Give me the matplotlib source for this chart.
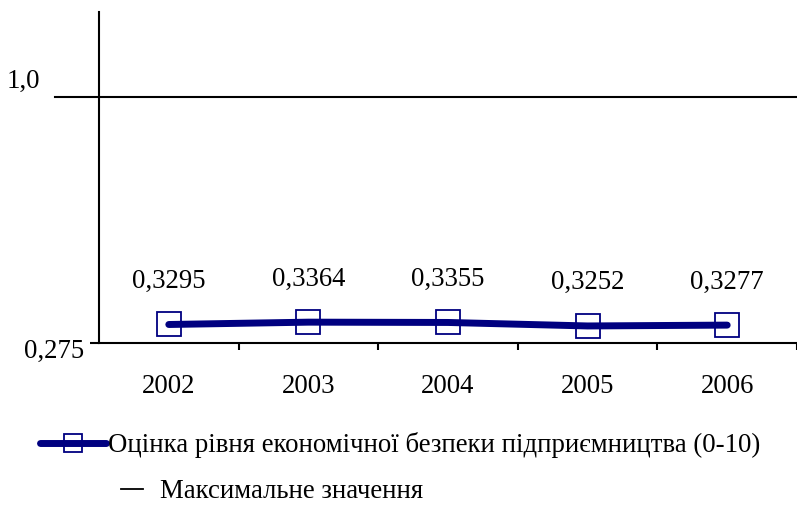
import matplotlib.pyplot as plt
from matplotlib.lines import Line2D
import matplotlib.transforms as mtransforms

plt.rcParams['font.family'] = ['Liberation Serif', 'DejaVu Serif']

# дані
years = ['2002', '2003', '2004', '2005', '2006']
scores = [0.3295, 0.3364, 0.3355, 0.3252, 0.3277]
max_value = 1.0
y_min, y_max = 0.275, 1.25

series_label = 'Оцінка рівня економічної безпеки підприємництва (0-10)'
max_label = 'Максимальне значення'

navy = '#000080'
fs = 19.3

fig = plt.figure(figsize=(7.97, 5.25), dpi=100)
ax = fig.add_axes([99 / 797, 1 - 343 / 525, 698 / 797, (343 - 12) / 525])

x = list(range(len(years)))
ax.plot(x, scores, color=navy, linewidth=5, marker='s', markersize=17,
        markerfacecolor='none', markeredgecolor=navy, markeredgewidth=1.3,
        solid_capstyle='round', zorder=3)

for xi, v in zip(x, scores):
    ax.annotate(f'{v:.4f}'.replace('.', ','), (xi, v), xytext=(0, 31),
                textcoords='offset points', ha='center', va='center', fontsize=fs)

# лінія максимального значення
ax.axhline(max_value, xmin=-0.063, xmax=1, color='black', linewidth=1.5, clip_on=False)
ax.annotate('1,0', (0, max_value), xycoords=mtransforms.blended_transform_factory(fig.transFigure, ax.transData),
            xytext=(5, 11), textcoords='offset points', ha='left', va='center', fontsize=fs)

ax.set_xlim(-0.5, len(years) - 0.5)
ax.set_ylim(y_min, y_max)

ax.set_xticks(x)
ax.set_xticklabels(years, fontsize=fs)
ax.set_xticks([i - 0.5 for i in range(1, len(years) + 1)], minor=True)
ax.tick_params(axis='x', which='major', length=0, pad=22)
ax.tick_params(axis='x', which='minor', length=5, width=1.5, direction='out')

ax.set_yticks([y_min])
ax.set_yticklabels(['0,275'], fontsize=fs)
ax.tick_params(axis='y', length=6.5, width=1.5, direction='out', pad=4)
shift = mtransforms.ScaledTranslation(0, -4 / 72, fig.dpi_scale_trans)
for lbl in ax.get_yticklabels():
    lbl.set_transform(lbl.get_transform() + shift)

for s in ['top', 'right']:
    ax.spines[s].set_visible(False)
for s in ['left', 'bottom']:
    ax.spines[s].set_linewidth(1.5)

# легенда
h1 = Line2D([], [], color=navy, linewidth=5, marker='s', markersize=13,
            markerfacecolor='none', markeredgecolor=navy, markeredgewidth=1.3,
            solid_capstyle='round')
fig.legend([h1], [series_label], loc='center left', bbox_to_anchor=(40 / 797, 1 - 445 / 525),
           frameon=False, fontsize=fs, handlelength=2.45, handletextpad=0.1,
           borderpad=0, borderaxespad=0)
h2 = Line2D([], [], color='black', linewidth=1.3)
fig.legend([h2], [max_label], loc='center left', bbox_to_anchor=(121 / 797, 1 - 492 / 525),
           frameon=False, fontsize=fs, handlelength=0.82, handletextpad=0.62,
           borderpad=0, borderaxespad=0)

fig.savefig('out.png', dpi=100)
